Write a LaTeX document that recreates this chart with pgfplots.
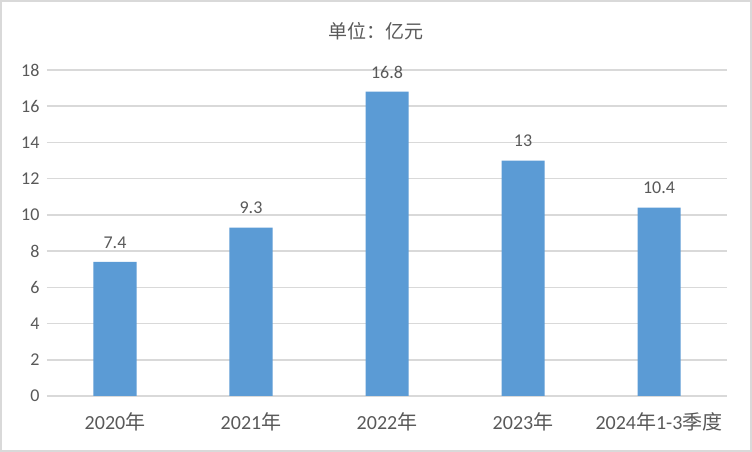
\documentclass[border=0pt]{standalone}
\usepackage{pgfplots}
\pgfplotsset{compat=1.18}
\usepackage{fontspec}
\setmainfont{Carlito}
\newfontfamily\cjk{Noto Sans CJK SC}
\definecolor{barblue}{HTML}{5B9BD5}
\definecolor{txt}{HTML}{595959}
\definecolor{gridc}{HTML}{D9D9D9}
\begin{document}
\begin{tikzpicture}[x=1pt,y=1pt]
  \fill[white] (0,0) rectangle (752,452);
  \draw[gridc, line width=2pt] (1,1) rectangle (751,451);
  \node[text=txt, font=\cjk\fontsize{19}{21}\selectfont] at (376,421) {单位：亿元};
  \begin{axis}[
      at={(47pt,56pt)}, anchor=south west,
      scale only axis, width=680pt, height=326pt,
      xmin=-0.5, xmax=4.5, ymin=0, ymax=18,
      ytick={0,2,...,18},
      xtick={0,1,2,3,4},
      xticklabels={2020{\cjk 年},2021{\cjk 年},2022{\cjk 年},2023{\cjk 年},2024{\cjk 年}1-3{\cjk 季度}},
      axis line style={draw=none},
      tick style={draw=none},
      ymajorgrids,
      grid style={gridc, line width=1.5pt},
      /pgf/number format/assume math mode=true,
      yticklabel style={text=txt, font=\fontsize{18}{20}\selectfont, xshift=-4pt},
      xticklabel style={text=txt, font=\fontsize{20}{22}\selectfont, yshift=-13pt},
      nodes near coords,
      every node near coord/.append style={text=txt, font=\fontsize{18}{20}\selectfont, yshift=10pt},
    ]
    \addplot[ybar, bar width=43pt, fill=barblue, draw=none] coordinates {
      (0,7.4) (1,9.3) (2,16.8) (3,13) (4,10.4)
    };
  \end{axis}
\end{tikzpicture}
\end{document}
